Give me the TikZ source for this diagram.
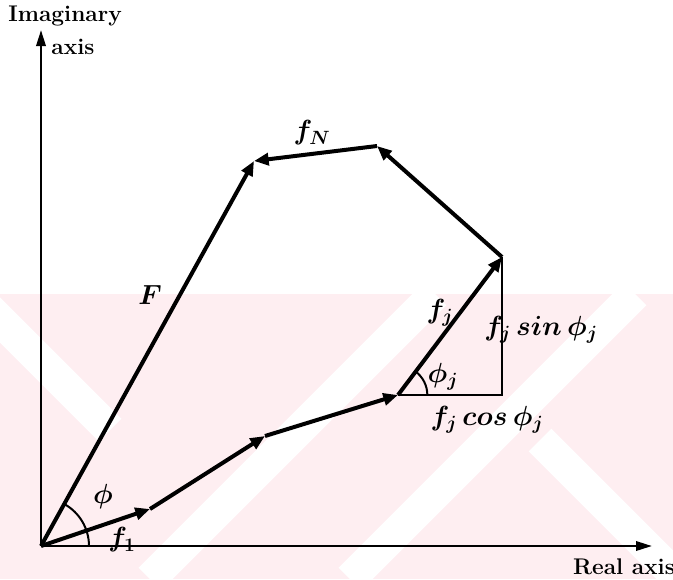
\documentclass[tikz,border=0pt]{standalone}
\usetikzlibrary{arrows.meta}
\definecolor{wm}{RGB}{254,238,241}
\begin{document}
\begin{tikzpicture}[x=0.75pt,y=-0.75pt,
  vec/.style={line width=3pt, -{Triangle[length=11pt,width=9pt]}},
  axisline/.style={line width=1.8pt, -{Triangle[length=12pt,width=7pt]}},
  thinline/.style={line width=1.5pt},
  wmband/.style={white, line width=24pt},
  lbl/.style={inner sep=0pt, font=\fontsize{21}{25}\selectfont\boldmath},
  axlbl/.style={inner sep=0pt, font=\fontsize{17}{20}\selectfont\bfseries}]
\useasboundingbox (0,0) rectangle (673,579);
% watermark background
\begin{scope}
  \clip (0,294) rectangle (673,579);
  \fill[wm] (0,294) rectangle (673,579);
  \draw[wmband] (150,579) -- (435,294);
  \draw[wmband] (350,579) -- (635,294);
  \draw[wmband] (-20,300) -- (110,430);
  \draw[wmband] (540,440) -- (700,600);
\end{scope}
% points
\coordinate (O) at (41,546);
\coordinate (IY) at (41,30);
\coordinate (RX) at (652,546);
\coordinate (P1) at (150,509);
\coordinate (P2) at (265,436);
\coordinate (Q) at (398,395);
\coordinate (R) at (502,257);
\coordinate (T) at (377,146);
\coordinate (S) at (254,161);
\coordinate (C) at (502,395);
% axes
\draw[axisline] (O) -- (IY);
\draw[axisline] (O) -- (RX);
% right triangle
\draw[thinline] (Q) -- (C) -- (R);
% vectors
\draw[vec] (O) -- (P1);
\draw[vec] (P1) -- (P2);
\draw[vec] (P2) -- (Q);
\draw[vec] (Q) -- (R);
\draw[vec] (R) -- (T);
\draw[vec] (T) -- (S);
\draw[vec] (O) -- (S);
% angle marks
\draw[thinline] ([xshift=36pt]O) arc[start angle=0,end angle=61,radius=36pt];
\draw[thinline] ([xshift=22pt]Q) arc[start angle=0,end angle=53,radius=22pt];
% labels
\node[lbl] (lF) at (150,295) {$F$};
\node[lbl] (lN) at (312,133) {$f_N$};
\node[lbl] (lj) at (440,313) {$f_j$};
\node[lbl] (lphij) at (443,377) {$\phi_j$};
\node[lbl] (lsin) at (541,330) {$f_j\,sin\,\phi_j$};
\node[lbl] (lcos) at (487,420) {$f_j\,cos\,\phi_j$};
\node[lbl] (lphi) at (103,497) {$\phi$};
\node[lbl] (l1) at (122,540) {$f_1$};
\node[axlbl] (imag) at (65,16) {Imaginary};
\node[axlbl] (axisA) at (73,47) {axis};
\node[axlbl] (real) at (624,567) {Real axis};
\end{tikzpicture}
\end{document}
